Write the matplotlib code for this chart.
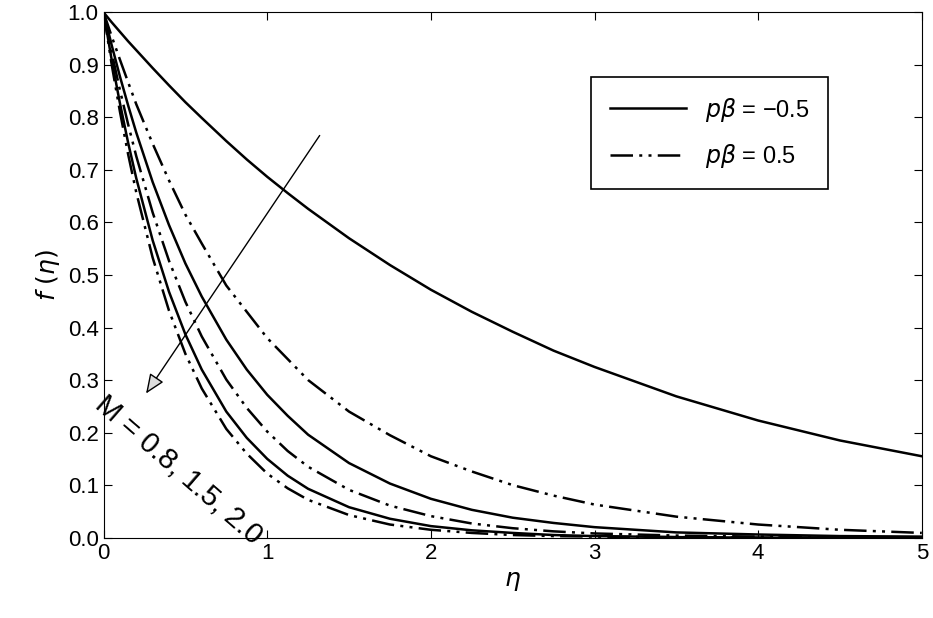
import matplotlib
matplotlib.use("Agg")
import matplotlib.pyplot as plt

plt.rcParams['font.family'] = ['Liberation Sans', 'DejaVu Sans']
eta = [0, 0.05, 0.1, 0.15, 0.2, 0.3, 0.4, 0.5, 0.6, 0.75, 0.875, 1, 1.125, 1.25, 1.5, 1.75, 2, 2.25, 2.5, 2.75, 3, 3.5, 4, 4.5, 5]
solid_M08 = [1, .981, .963, .945, .928, .894, .861, .829, .799, .755, .72, .687, .656, .626, .570, .519, .472, .430, .392, .356, .325, .269, .223, .185, .155]
dd_M08 = [1, .954, .91, .867, .825, .75, .68, .615, .56, .48, .43, .38, .34, .30, .24, .195, .155, .126, .10, .08, .063, .04, .025, .015, .009]
solid_M15 = [1, .937, .878, .823, .771, .677, .595, .522, .459, .377, .32, .272, .232, .196, .142, .103, .074, .053, .038, .028, .02, .01, .006, .003, .002]
dd_M15 = [1, .923, .852, .787, .726, .619, .527, .449, .383, .301, .247, .202, .165, .135, .091, .061, .041, .027, .018, .012, .008, .004, .002, .001, 0]
solid_M20 = [1, .909, .827, .752, .684, .566, .468, .387, .32, .240, .19, .150, .118, .093, .058, .036, .022, .014, .009, .005, .003, .001, 0, 0, 0]
dd_M20 = [1, .9, .811, .73, .657, .533, .432, .35, .284, .207, .16, .122, .094, .072, .043, .025, .015, .009, .005, .003, .002, .001, 0, 0, 0]

dd = (0, (9, 2.5, 1.2, 2.5, 1.2, 2.5))
fig = plt.figure(figsize=(9.33, 6.18), dpi=100)
ax = fig.add_axes([0.111, 0.13, 0.877, 0.85])
for s in [solid_M08, solid_M15, solid_M20]:
    ax.plot(eta, s, color='black', lw=1.8)
for s in [dd_M08, dd_M15, dd_M20]:
    ax.plot(eta, s, color='black', lw=1.8, linestyle=dd)
ax.plot([], [], color='black', lw=1.8, label=r'$p\beta$ = −0.5')
ax.plot([], [], color='black', lw=1.8, linestyle=dd, label=r'$p\beta$ = 0.5')
leg = ax.legend(loc='upper right', bbox_to_anchor=(0.9, 0.9), fontsize=17, fancybox=False,
                edgecolor='black', framealpha=1, handlelength=3.2, borderpad=0.8, labelspacing=0.8)
leg.get_frame().set_linewidth(1.2)
ax.annotate('', xy=(0.25, 0.27), xytext=(1.33, 0.77),
            arrowprops=dict(arrowstyle='-|>,head_width=0.5,head_length=1.2', fc='#dddddd', ec='black', lw=1))
ax.text(0.03, 0.28, 'M = 0.8, 1.5, 2.0', rotation=-41, fontsize=21, ha='left', va='top', rotation_mode='anchor')
ax.set_xlim(0, 5); ax.set_ylim(0, 1)
ax.set_xticks(range(6)); ax.set_yticks([i / 10 for i in range(11)])
ax.set_yticklabels([f'{i/10:.1f}' for i in range(11)])
ax.tick_params(labelsize=16, direction='in', top=True, right=True, length=6)
ax.set_xlabel(r'$\eta$', fontsize=18)
ax.set_ylabel(r'$f\ (\eta)$', fontsize=18)
fig.savefig('out.png', dpi=100)
